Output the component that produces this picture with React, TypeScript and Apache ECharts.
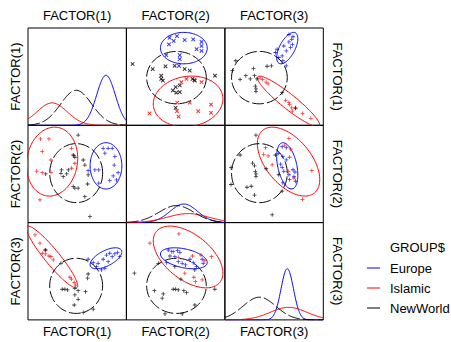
import React, { useEffect, useRef } from 'react';
import * as echarts from 'echarts';

// Variables of the scatterplot matrix and the grouping variable
const FACTORS = ['FACTOR(1)', 'FACTOR(2)', 'FACTOR(3)'];
const GROUP_TITLE = 'GROUP$';
const GROUPS = ['Europe', 'Islamic', 'NewWorld'];
const GROUP_COLORS = ['#0000ff', '#ff0000', '#000000'];

// Per-group summary statistics (factor scores)
const GROUP_SIZES = [18, 13, 21];
const MEANS_EUROPE = [1.76, 0.5, 0.8];
const MEANS_ISLAMIC = [-1.53, 0.76, 0.88];
const MEANS_NEWWORLD = [-0.06, 0.05, -0.9];
const SDS_EUROPE = [0.57, 0.84, 0.38];
const SDS_ISLAMIC = [0.92, 1.25, 1.12];
const SDS_NEWWORLD = [0.95, 1.07, 1.0];
// correlations r(1,2), r(1,3), r(2,3)
const CORR_EUROPE = [0, 0.6, -0.4];
const CORR_ISLAMIC = [0.1, -0.93, -0.52];
const CORR_NEWWORLD = [0, 0, 0];

// Observed scores, per pair of factors: [first factor, second factor]
const EUROPE_F1_F2 = [
  [1.59, 1.58], [1.89, 1.58], [2.14, 1.58], [1.69, 1.28], [2.3, 1.07], [2.26, 0.55],
  [0.67, 0.2], [1.08, 0.25], [1.32, 0.25], [2.5, 0.08], [2.2, -0.12], [2.4, -0.37],
  [1.99, -0.41], [1.32, -0.57],
];
const ISLAMIC_F1_F2 = [
  [-2.23, 2.16], [-1.72, 2.16], [-2.13, 1.38], [-1.6, 0.86], [-0.34, 1.58], [-0.2, 1.13],
  [-0.14, 0.66], [-0.34, 0.35], [-2.47, 0.18], [-2.13, 0.08], [-1.6, 0.1], [-2.27, -1.6],
];
const NEWWORLD_F1_F2 = [
  [0.06, 2.4], [-0.24, 1.17], [-0.14, 1.03], [0.37, 0.86], [0.47, 0.55], [-0.95, 0.25],
  [-0.54, 0.25], [-0.99, 0.04], [-0.64, 0.0], [-0.85, -0.17], [-1.92, 0.0], [0.67, -0.06],
  [-0.24, -0.78], [0.06, -0.88], [-0.14, -0.88], [0.47, -1.4], [0.78, -2.63], [0.64, -0.62],
];
const EUROPE_F1_F3 = [
  [0.67, 0.74], [0.98, 0.53], [1.28, 0.49], [1.59, 0.74], [1.79, 1.0], [1.99, 1.11],
  [2.14, 0.9], [2.3, 1.07], [2.46, 1.15], [1.89, 0.59], [1.69, 0.18], [1.18, 0.28],
  [2.6, 0.9], [1.49, 0.08],
];
const ISLAMIC_F1_F3 = [
  [-2.27, 1.73], [-2.13, 1.11], [-1.92, 1.07], [-1.72, 0.94], [-1.6, 0.9], [-1.96, 1.31],
  [-0.34, -0.49], [-0.18, -0.7], [-0.09, -0.86], [-0.44, -0.37], [-2.57, 2.24], [-1.46, 0.7],
];
const NEWWORLD_F1_F3 = [
  [-1.92, 1.31], [-0.99, 0.49], [-0.91, -1.11], [-0.75, -1.11], [-0.58, -1.15], [-0.14, -1.05],
  [0.06, -1.2], [0.51, -1.26], [0.64, -0.43], [0.67, -0.17], [0.06, -1.73], [-0.18, -2.08],
  [0.37, -2.55], [0.98, -2.34], [-0.14, -1.46],
];
const EUROPE_F2_F3 = [
  [-0.45, 1.31], [-0.15, 1.21], [0.12, 1.27], [0.26, 1.15], [-0.35, 0.94], [-0.05, 0.9],
  [0.16, 0.59], [0.4, 0.49], [0.6, 0.39], [1.07, 0.53], [1.62, 0.74], [1.68, 0.49],
  [1.27, 0.28], [0.87, 0.74], [-0.55, 0.53],
];
const ISLAMIC_F2_F3 = [
  [-1.57, 1.73], [0.2, 2.3], [1.03, 0.94], [1.54, 1.0], [2.19, 0.9], [1.11, -0.37],
  [1.21, -0.64], [1.62, -0.53], [0.16, 0.86], [1.78, 0.65], [0.56, -0.12], [-0.25, 1.21],
];
const NEWWORLD_F2_F3 = [
  [-2.52, -0.12], [-1.06, 0.49], [-1.3, -1.2], [-0.76, -1.4], [-0.82, -1.66], [-0.15, -1.11],
  [0.0, -1.11], [0.16, -1.15], [0.5, -1.2], [0.67, -1.32], [0.32, -0.49], [1.17, -2.08],
  [0.4, -2.63], [-0.65, -2.63], [2.39, -1.11], [-0.05, 0.28], [1.17, 0.08],
];

// Axis range of every factor, confidence-ellipse radius, density axis maxima
const AXIS_MIN = -3;
const AXIS_MAX = 3;
const ELLIPSE_SCALE = 1.7;
const DENSITY_MAX = [24.5, 44.8, 35.9];

const MEANS = [MEANS_EUROPE, MEANS_ISLAMIC, MEANS_NEWWORLD];
const SDS = [SDS_EUROPE, SDS_ISLAMIC, SDS_NEWWORLD];
const CORRS = [CORR_EUROPE, CORR_ISLAMIC, CORR_NEWWORLD];
const PAIRS: Record<string, number[][][]> = {
  '0-1': [EUROPE_F1_F2, ISLAMIC_F1_F2, NEWWORLD_F1_F2],
  '0-2': [EUROPE_F1_F3, ISLAMIC_F1_F3, NEWWORLD_F1_F3],
  '1-2': [EUROPE_F2_F3, ISLAMIC_F2_F3, NEWWORLD_F2_F3],
};

// Layout of the matrix
const PANEL_LEFT = [28, 126.5, 225];
const PANEL_TOP = [28, 125.3, 222.6];
const PANEL_W = 98.3;
const PANEL_H = 97.3;
const FONT = '"Liberation Sans", Arial, sans-serif';

const PLUS = 'path://M2,0H3V2H5V3H3V5H2V3H0V2H2Z';

function corrOf(g: number, a: number, b: number) {
  const lo = Math.min(a, b);
  const hi = Math.max(a, b);
  const idx = lo === 0 && hi === 1 ? 0 : lo === 0 ? 1 : 2;
  return CORRS[g][idx];
}

function ellipse(g: number, xf: number, yf: number) {
  const mx = MEANS[g][xf];
  const my = MEANS[g][yf];
  const sx = SDS[g][xf] * ELLIPSE_SCALE;
  const sy = SDS[g][yf] * ELLIPSE_SCALE;
  const r = corrOf(g, xf, yf);
  const q = Math.sqrt(1 - r * r);
  const pts: number[][] = [];
  for (let i = 0; i <= 120; i++) {
    const t = (i / 120) * Math.PI * 2;
    pts.push([mx + sx * Math.cos(t), my + sy * (r * Math.cos(t) + q * Math.sin(t))]);
  }
  return pts;
}

function density(g: number, f: number) {
  const m = MEANS[g][f];
  const s = SDS[g][f];
  const n = GROUP_SIZES[g];
  const pts: number[][] = [];
  for (let i = 0; i <= 240; i++) {
    const x = AXIS_MIN + ((AXIS_MAX - AXIS_MIN) * i) / 240;
    const z = (x - m) / s;
    pts.push([x, (n * Math.exp(-0.5 * z * z)) / (s * Math.sqrt(2 * Math.PI))]);
  }
  return pts;
}

function buildOption() {
  const grid: any[] = [];
  const xAxis: any[] = [];
  const yAxis: any[] = [];
  const series: any[] = [];
  for (let row = 0; row < 3; row++) {
    for (let col = 0; col < 3; col++) {
      const gi = row * 3 + col;
      grid.push({
        left: PANEL_LEFT[col], top: PANEL_TOP[row], width: PANEL_W, height: PANEL_H,
        show: true, borderColor: '#000', borderWidth: 1, backgroundColor: 'transparent',
      });
      xAxis.push({ type: 'value', gridIndex: gi, min: AXIS_MIN, max: AXIS_MAX, show: false });
      if (row === col) {
        yAxis.push({ type: 'value', gridIndex: gi, min: 0, max: DENSITY_MAX[row], show: false });
        GROUPS.forEach((name, g) => {
          series.push({
            type: 'line', name, xAxisIndex: gi, yAxisIndex: gi, data: density(g, col),
            showSymbol: false, symbol: 'none', clip: true, silent: true,
            lineStyle: { color: GROUP_COLORS[g], width: 1, type: g === 2 ? [12, 3] : 'solid' },
          });
        });
      } else {
        yAxis.push({ type: 'value', gridIndex: gi, min: AXIS_MIN, max: AXIS_MAX, show: false });
        const a = Math.min(row, col);
        const b = Math.max(row, col);
        const sets = PAIRS[`${a}-${b}`];
        const swap = col !== a; // x shows factor `col`
        GROUPS.forEach((name, g) => {
          series.push({
            type: 'line', name, xAxisIndex: gi, yAxisIndex: gi, data: ellipse(g, col, row),
            showSymbol: false, symbol: 'none', clip: true, silent: true,
            lineStyle: { color: GROUP_COLORS[g], width: 1, type: g === 2 ? [12, 3] : 'solid' },
          });
          const pts = sets[g].map((p) => (swap ? [p[1], p[0]] : [p[0], p[1]]));
          const cross = row === 0 && col === 1;
          series.push({
            type: 'scatter', name, xAxisIndex: gi, yAxisIndex: gi, data: pts, z: 3,
            symbol: PLUS, symbolSize: cross ? 5 : 4, symbolRotate: cross ? 45 : 0,
            clip: true, silent: true,
            itemStyle: { color: GROUP_COLORS[g] },
          });
        });
      }
    }
  }

  const graphic: any[] = [];
  const textStyle = (text: string) => ({
    text, fill: '#000', fontSize: 13, fontFamily: FONT,
    textAlign: 'center', textVerticalAlign: 'middle',
  });
  FACTORS.forEach((label, k) => {
    const cx = PANEL_LEFT[k] + PANEL_W / 2;
    const cy = PANEL_TOP[k] + PANEL_H / 2;
    graphic.push({ type: 'text', x: cx, y: 15, style: textStyle(label) });
    graphic.push({ type: 'text', x: cx, y: 331, style: textStyle(label) });
    graphic.push({ type: 'text', x: 15, y: cy, rotation: Math.PI / 2, style: textStyle(label) });
    graphic.push({ type: 'text', x: 337, y: cy, rotation: -Math.PI / 2, style: textStyle(label) });
  });
  graphic.push({
    type: 'text', x: 390, y: 247,
    style: { text: GROUP_TITLE, fill: '#000', fontSize: 13, fontFamily: FONT, textAlign: 'left', textVerticalAlign: 'middle' },
  });
  GROUPS.forEach((name, g) => {
    const y = 268 + g * 20;
    graphic.push({
      type: 'line', shape: { x1: 367, y1: y, x2: 380, y2: y },
      style: { stroke: GROUP_COLORS[g], lineWidth: 1 },
    });
    graphic.push({
      type: 'text', x: 390, y,
      style: { text: name, fill: '#000', fontSize: 13, fontFamily: FONT, textAlign: 'left', textVerticalAlign: 'middle' },
    });
  });

  return {
    animation: false,
    backgroundColor: '#ffffff',
    grid, xAxis, yAxis, series, graphic,
  };
}

export default function App() {
  const ref = useRef<HTMLDivElement>(null);
  useEffect(() => {
    if (!ref.current) return;
    const chart = echarts.init(ref.current, undefined, { renderer: 'svg' });
    chart.setOption(buildOption() as any);
    return () => chart.dispose();
  }, []);
  return (
    <div
      ref={ref}
      style={{ position: 'fixed', left: 0, top: 0, width: 451, height: 342, background: '#fff' }}
    />
  );
}
